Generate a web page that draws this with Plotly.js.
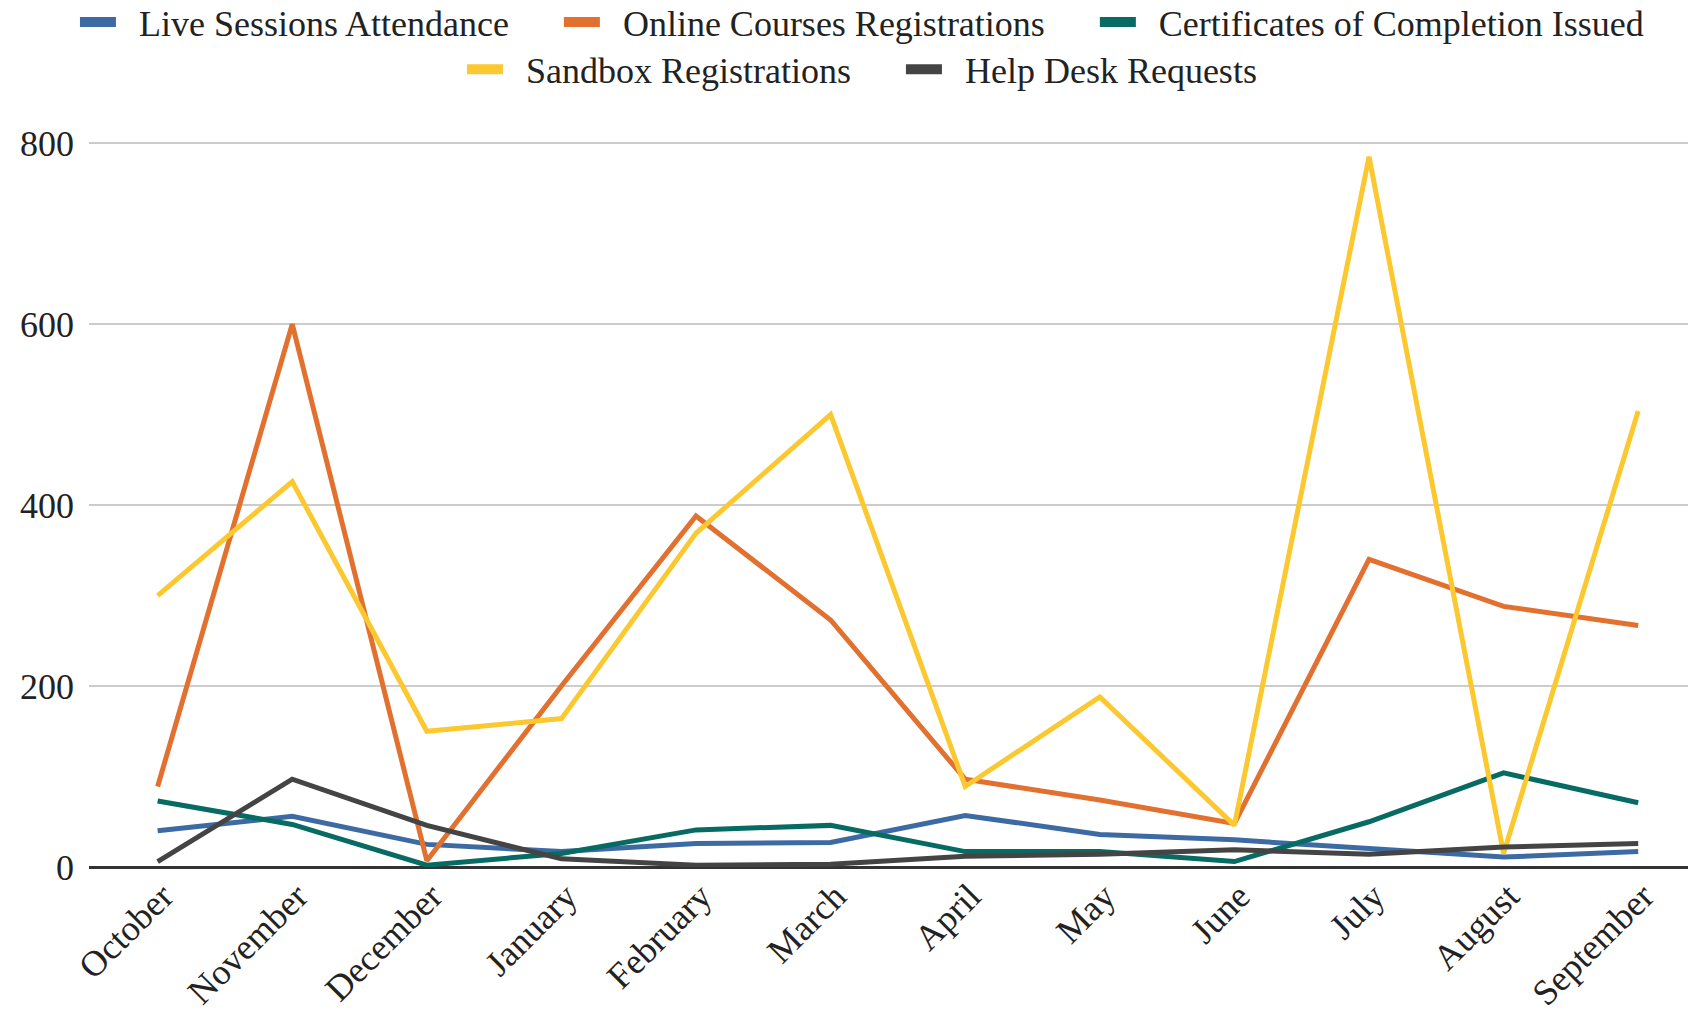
<!DOCTYPE html>
<html>
<head>
<meta charset="utf-8">
<script src="https://cdn.plot.ly/plotly-3.0.1.min.js"></script>
<style>html,body{margin:0;padding:0;background:#fff;}#chart{width:1688px;height:1013px;}</style>
</head>
<body>
<div id="chart"></div>
<script>
const months = ["October","November","December","January","February","March","April","May","June","July","August","September"];
const liveSessions = [40, 56, 25, 17, 26, 27, 57, 36, 30, 21, 11, 17];
const onlineCourses = [89, 600, 7, 200, 388, 273, 97, 74, 48, 340, 288, 267];
const certificates = [73, 47, 2, 15, 41, 46, 17, 17, 6, 50, 104, 71];
const sandbox = [300, 426, 150, 164, 369, 500, 89, 188, 46, 785, 15, 504];
const helpDesk = [6, 97, 46, 9, 2, 3, 12, 14, 19, 14, 22, 26];

const seriesNames = ["Live Sessions Attendance","Online Courses Registrations","Certificates of Completion Issued","Sandbox Registrations","Help Desk Requests"];
const seriesValues = [liveSessions, onlineCourses, certificates, sandbox, helpDesk];
const seriesColors = ["#3d6aa3","#e2702f","#086b63","#fbc830","#444444"];
const legendRow = ["legend","legend","legend","legend2","legend2"];
const rowEnd = [false, false, true, false, true];

const traces = seriesNames.map((name, i) => ({
  type: "scatter",
  mode: "lines",
  name: name,
  x: months,
  y: seriesValues[i],
  line: {color: seriesColors[i], width: 5},
  showlegend: false,
  cliponaxis: false
}));

// legend-only proxies (no data drawn) giving the thick bar symbols
const NB = "\u00A0";
seriesNames.forEach((name, i) => {
  traces.push({
    type: "scatter",
    mode: "lines",
    name: NB + NB + name + (rowEnd[i] ? "" : NB.repeat(5)),
    x: [null],
    y: [null],
    line: {color: seriesColors[i], width: 11},
    legend: legendRow[i],
    showlegend: true,
    hoverinfo: "skip"
  });
});

const fontFamily = "Liberation Serif, Times New Roman, serif";
const legendFont = {family: fontFamily, size: 36, color: "#222222"};

const layout = {
  width: 1688,
  height: 1013,
  margin: {l: 89, r: 0, t: 116, b: 146, autoexpand: false},
  paper_bgcolor: "#ffffff",
  plot_bgcolor: "#ffffff",
  font: {family: fontFamily, size: 36, color: "#222222"},
  showlegend: true,
  legend: {
    orientation: "h",
    x: 0.4834, xanchor: "center",
    y: 1.125, yanchor: "middle",
    font: legendFont,
    itemwidth: 36,
    bgcolor: "rgba(0,0,0,0)"
  },
  legend2: {
    orientation: "h",
    x: 0.4834, xanchor: "center",
    y: 1.062, yanchor: "middle",
    font: legendFont,
    itemwidth: 36,
    bgcolor: "rgba(0,0,0,0)"
  },
  xaxis: {
    type: "category",
    range: [-0.51, 11.37],
    showgrid: false,
    zeroline: false,
    showline: false,
    ticks: "",
    tickangle: -45,
    ticklabelstandoff: 0,
    ticklabelshift: 5,
    tickfont: {family: fontFamily, size: 36, color: "#222222"},
    automargin: false
  },
  yaxis: {
    range: [0, 830],
    tickvals: [0, 200, 400, 600, 800],
    showgrid: true,
    gridcolor: "#cccccc",
    gridwidth: 2,
    zeroline: true,
    zerolinecolor: "#333333",
    zerolinewidth: 3,
    showline: false,
    ticks: "",
    ticklabelstandoff: 14,
    tickfont: {family: fontFamily, size: 36, color: "#222222"},
    automargin: false
  }
};

Plotly.newPlot("chart", traces, layout, {displayModeBar: false, staticPlot: true});
</script>
</body>
</html>
